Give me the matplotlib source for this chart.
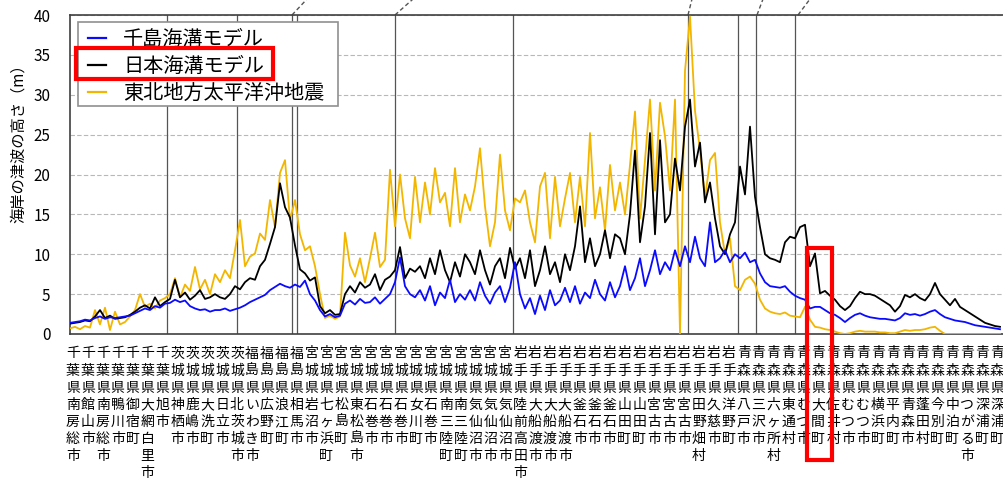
import numpy as np
import matplotlib
matplotlib.use("Agg")
import matplotlib.pyplot as plt
from matplotlib.patches import Rectangle

plt.rcParams['font.family'] = ['Noto Sans CJK JP', 'DejaVu Sans']

# 海岸の津波の高さ (m)、海岸線に沿った位置ごと (5刻み)
chishima = [
    1.4, 1.5, 1.6, 1.8, 1.7, 2.0, 2.2, 1.9, 2.1, 2.0,
    2.1, 2.2, 2.3, 2.6, 2.9, 3.2, 3.0, 3.5, 3.3, 3.8,
    3.9, 4.3, 4.0, 4.2, 3.5, 3.2, 3.0, 3.1, 2.8, 3.0,
    3.0, 3.2, 2.9, 3.1, 3.3, 3.6, 4.0, 4.3, 4.6, 4.9,
    5.5, 5.9, 6.3, 6.0, 5.8, 6.2, 5.9, 6.7, 5.0, 4.2,
    3.0, 2.2, 2.5, 2.1, 2.3, 3.8, 4.2, 3.7, 4.4, 3.9,
    4.0, 4.6, 3.8, 4.4, 5.0, 6.5, 9.6, 6.0, 5.0, 4.6,
    5.5, 4.2, 6.0, 3.6, 5.2, 4.5, 6.8, 4.0, 5.0, 4.3,
    5.5, 4.2, 6.5, 4.8, 3.8, 5.2, 6.0, 4.0, 5.8, 9.0,
    5.0, 3.2, 4.5, 2.5, 4.8, 3.0, 5.5, 3.6, 4.2, 5.8,
    4.0, 6.0, 3.8, 5.2, 4.5, 6.8, 5.0, 4.2, 6.5, 4.6,
    6.0, 8.5, 5.5, 7.0, 9.5, 6.0, 8.0, 10.5, 7.5, 9.0,
    8.0, 10.5, 8.5, 11.0, 9.0, 12.2, 9.5, 8.5, 14.0, 9.0,
    9.5, 10.5, 9.0, 10.0, 9.5, 10.2, 9.0, 9.3, 7.6, 6.5,
    6.0, 5.9, 5.8, 6.0, 5.3, 4.8, 4.5, 4.3, 3.2, 3.4,
    3.4, 3.0, 2.6, 2.4, 2.0, 1.5, 2.0, 2.4, 2.6, 2.3,
    2.1, 2.0, 1.9, 1.9, 1.8, 1.7, 2.0, 2.6, 2.4, 2.5,
    2.3, 2.5, 2.8, 3.0, 2.5, 2.1, 1.9, 1.7, 1.6, 1.5,
    1.3, 1.1, 1.0, 0.9, 0.8, 0.7, 0.6,
]
nihon = [
    1.3, 1.4, 1.5, 1.7, 1.6, 2.2, 3.0, 2.0, 2.3, 1.9,
    2.0, 2.1, 2.4, 2.8, 3.3, 3.6, 3.2, 4.6, 3.5, 4.0,
    4.4, 6.8, 4.6, 5.2, 4.3, 4.8, 5.5, 4.4, 4.6, 5.0,
    4.6, 4.4, 5.0, 6.0, 5.6, 6.5, 7.0, 6.8, 8.5, 9.3,
    11.3, 13.4, 18.9, 15.9, 14.6, 11.1, 8.1, 7.6, 6.7, 7.1,
    3.5, 2.6, 3.0, 2.4, 2.5, 5.0, 6.0, 5.2, 6.5, 5.8,
    6.2, 7.5, 5.5, 6.8, 7.2, 8.0, 10.9, 7.0, 8.2, 7.8,
    8.5, 7.0, 9.5, 7.5, 10.5, 8.0, 6.5, 9.0, 7.2, 10.0,
    9.0, 7.5, 10.5, 8.0, 6.2, 8.5, 9.5, 7.0, 10.8, 8.2,
    9.5, 7.0, 10.5, 6.0, 8.0, 11.0, 7.5, 9.0, 6.5, 10.0,
    8.0, 11.0, 16.0, 9.0, 12.0, 8.5, 10.0, 13.0, 9.5, 12.5,
    12.0, 10.0, 15.0, 23.0, 11.5, 16.0, 25.2, 12.5, 24.3, 14.0,
    15.0, 22.0, 18.0, 26.0, 29.4, 21.0, 24.0, 16.5, 19.0, 14.5,
    11.0, 10.0, 12.5, 14.0, 21.0, 17.5, 26.0, 17.2, 13.4, 10.0,
    9.5, 9.3, 9.0, 11.5, 12.2, 12.0, 13.4, 13.7, 8.5, 10.1,
    5.1, 5.4, 4.8, 4.3, 3.5, 3.0, 3.5, 4.5, 5.3, 5.0,
    5.0, 4.8, 4.4, 4.0, 3.6, 2.8, 3.5, 4.9, 4.6, 5.0,
    4.5, 4.2, 5.0, 6.4, 5.0, 4.3, 3.6, 4.4, 3.4, 3.0,
    2.6, 2.2, 1.8, 1.4, 1.2, 1.0, 0.9,
]
tohoku = [
    0.7, 0.9, 0.6, 1.0, 0.8, 3.0, 1.2, 3.3, 0.5, 2.8,
    1.2, 1.5, 2.2, 3.0, 5.0, 3.4, 3.8, 3.2, 4.2, 4.5,
    5.0, 7.0, 4.6, 6.2, 5.4, 8.4, 5.6, 6.8, 5.0, 7.5,
    6.5, 8.0, 7.0, 10.5, 14.3, 8.5, 9.7, 10.1, 12.6, 11.8,
    16.8, 13.4, 20.2, 21.8, 14.3, 16.8, 12.5, 10.5, 11.0, 8.5,
    5.0, 2.0, 2.3, 1.9, 2.2, 12.7, 8.6, 7.2, 9.5, 6.5,
    9.5, 12.7, 8.4, 9.3, 20.6, 13.5, 20.0, 14.5, 12.0, 19.7,
    14.0, 19.0, 15.0, 20.8, 16.5, 17.7, 13.5, 20.8, 14.0, 17.5,
    15.5, 18.5, 23.3, 16.0, 11.0, 14.0, 22.5, 15.5, 13.0, 17.0,
    16.5, 18.0, 14.0, 11.5, 18.5, 20.2, 12.0, 19.7, 13.5, 17.0,
    20.2, 14.0, 19.7, 13.5, 25.2, 14.5, 18.4, 13.0, 21.2, 15.5,
    19.0, 15.0, 21.2, 27.9, 14.5, 21.8, 29.4, 18.0, 29.0, 24.8,
    18.0, 29.4, 0.0, 33.0, 39.8, 28.0, 23.0, 17.0, 21.8, 22.7,
    14.0, 10.0, 12.0, 6.0, 5.5, 6.8, 7.2, 6.3, 4.3, 3.2,
    2.8, 2.6, 2.5, 2.7, 2.3, 2.2, 2.1, 3.4, 1.8, 0.9,
    0.8, 0.6, 0.5, 0.3, 0.1, 0.0, 0.1, 0.3, 0.4, 0.3,
    0.3, 0.3, 0.2, 0.2, 0.1, 0.1, 0.3, 0.5, 0.4, 0.5,
    0.5, 0.6, 0.8, 0.9, 0.4, 0.0, 0.0, 0.0, 0.0, 0.0,
    0.0, 0.0, 0.0, 0.0, 0.0, 0.0, 0.0,
]

places = [
    "千葉県南房総市", "千葉県館山市", "千葉県南房総市", "千葉県鴨川市", "千葉県御宿町",
    "千葉県大網白里市", "千葉県旭市", "茨城県神栖市", "茨城県鹿嶋市", "茨城県大洗町",
    "茨城県日立市", "茨城県北茨城市", "福島県いわき市", "福島県広野町", "福島県浪江町",
    "福島県相馬市", "宮城県岩沼市", "宮城県七ヶ浜町", "宮城県松島町", "宮城県東松島市",
    "宮城県石巻市", "宮城県石巻市", "宮城県石巻市", "宮城県女川町", "宮城県石巻市",
    "宮城県南三陸町", "宮城県南三陸町", "宮城県気仙沼市", "宮城県気仙沼市", "宮城県気仙沼市",
    "岩手県陸前高田市", "岩手県大船渡市", "岩手県大船渡市", "岩手県大船渡市", "岩手県釜石市",
    "岩手県釜石市", "岩手県釜石市", "岩手県山田町", "岩手県山田町", "岩手県宮古市",
    "岩手県宮古市", "岩手県宮古市", "岩手県田野畑村", "岩手県久慈市", "岩手県洋野町",
    "青森県八戸市", "青森県三沢市", "青森県六ヶ所村", "青森県東通村", "青森県むつ市",
    "青森県大間町", "青森県佐井村", "青森県むつ市", "青森県むつ市", "青森県横浜町",
    "青森県平内町", "青森県青森市", "青森県蓬田村", "青森県今別町", "青森県中泊町",
    "青森県つがる市", "青森県深浦町", "青森県深浦町",
]

# 縦線の位置 (県境など)
boundaries = [97, 167, 222, 227, 325, 443, 618, 668, 686, 725]
leaders = [(222, 15), (325, 18), (618, 4), (687, 6), (728, 12)]

x = np.arange(len(chishima)) * 5

fig = plt.figure(figsize=(10.04, 4.84), dpi=100)
ax = fig.add_axes([70 / 1004, 150 / 484, 934 / 1004, 319 / 484])

ax.plot(x, tohoku, color='#f2b600', lw=1.3, zorder=3, label='東北地方太平洋沖地震')
ax.plot(x, nihon, color='black', lw=1.3, zorder=4, label='日本海溝モデル')
ax.plot(x, chishima, color='#0a0aff', lw=1.3, zorder=5, label='千島海溝モデル')

for b in boundaries:
    ax.axvline(b, color='#555555', lw=0.9, zorder=2)
for b, dx in leaders:
    ax.plot([b, b + dx], [40, 42], color='#555555', lw=1.0, ls=(0, (3, 2)), clip_on=False)

ax.set_xlim(0, 934)
ax.set_ylim(0, 40)
ax.set_yticks(np.arange(0, 41, 5))
ax.yaxis.grid(True, color='#b8b8b8', lw=0.8, ls=(0, (4, 2)))
ax.set_axisbelow(True)

ax.set_xticks(np.linspace(3, 927, len(places)))
ax.set_xticklabels(['\n'.join(p) for p in places], fontsize=10, linespacing=1.28, va='top')
ax.tick_params(axis='x', length=0, pad=9)
ax.tick_params(axis='y', length=0, pad=14, labelsize=11)

ax.set_ylabel('海岸の津波の高さ（m）', fontsize=11)
ax.yaxis.set_label_coords(-0.046, 0.61)

for s in ax.spines.values():
    s.set_color('#404040')
    s.set_linewidth(1.2)

# 凡例の枠
ax.add_patch(Rectangle((78 / 1004, (484 - 106) / 484), 260 / 1004, 84 / 484,
                       transform=fig.transFigure, fc='white', ec='#909090', lw=1.2,
                       zorder=6, clip_on=False))
h, l = ax.get_legend_handles_labels()
leg = ax.legend(h[::-1], l[::-1], loc='upper left', bbox_to_anchor=(0.0193, 0.955),
                borderaxespad=0, fontsize=14.5, handlelength=0.9, handletextpad=0.85,
                labelspacing=0.28, borderpad=0, frameon=False)
leg.set_zorder(7)
for line in leg.get_lines():
    line.set_linewidth(1.6)

# 赤枠 (強調)
fig.add_artist(Rectangle((76 / 1004, (484 - 79) / 484), 197 / 1004, 31 / 484,
                         transform=fig.transFigure, fill=False, ec='#ff0000', lw=3))
fig.add_artist(Rectangle((807 / 1004, (484 - 460) / 484), 25 / 1004, 212 / 484,
                         transform=fig.transFigure, fill=False, ec='#ff0000', lw=3,
                         zorder=10))

fig.savefig('out.png', dpi=100)
